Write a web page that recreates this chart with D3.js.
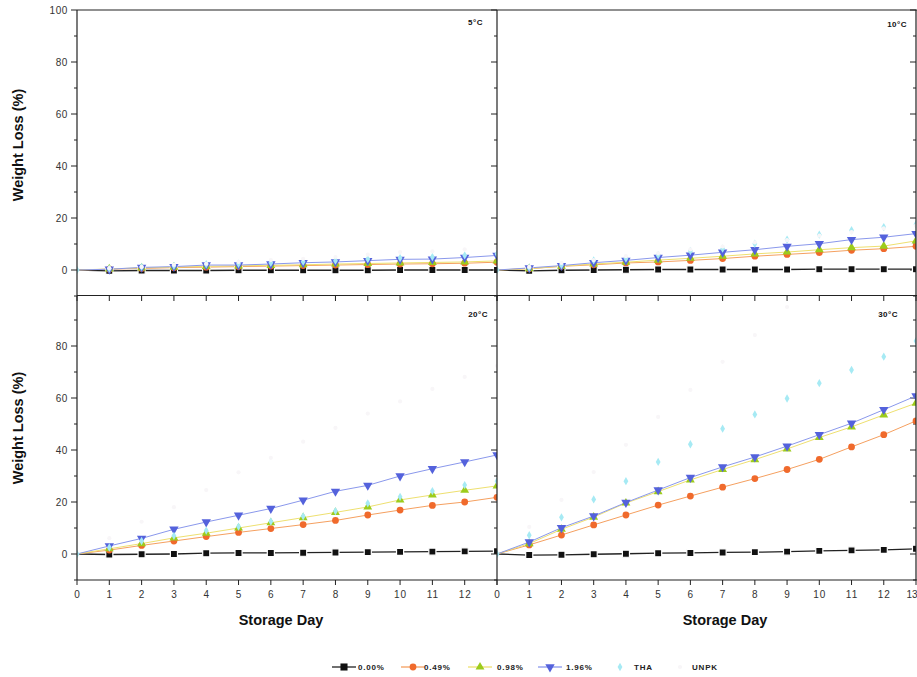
<!DOCTYPE html>
<html><head><meta charset="utf-8">
<script src="https://cdn.jsdelivr.net/npm/d3@7"></script>
<style>
html,body{margin:0;padding:0;background:#fff;}
svg{display:block;font-family:"Liberation Sans",Arial,sans-serif;}
</style></head><body>
<svg id="chart" width="917" height="677"></svg>
<script>
// ---------- DATA ----------
const days = [0,1,2,3,4,5,6,7,8,9,10,11,12,13];
const temperatures = ["5°C","10°C","20°C","30°C"];
const seriesNames = ["0.00%","0.49%","0.98%","1.96%","THA","UNPK"];
const yTicksTop = [0,20,40,60,80,100];
const yTicksBottom = [0,20,40,60,80];
const xTickLabels = days;

// weight loss (%) per temperature: [5°C, 10°C, 20°C, 30°C]
const loss000 = [
  [0,-0.3,-0.2,-0.2,-0.2,-0.1,-0.1,-0.1,-0.1,-0.1,0,0,0,0],
  [0,-0.3,-0.1,0,0.1,0.2,0.2,0.2,0.2,0.2,0.3,0.3,0.3,0.3],
  [0,-0.2,-0.1,0,0.3,0.4,0.4,0.5,0.6,0.7,0.8,0.9,1.0,1.1],
  [0,-0.4,-0.3,-0.1,0.1,0.3,0.4,0.6,0.7,0.9,1.2,1.4,1.6,2.0]
];
const loss049 = [
  [0,0.3,0.6,0.9,1.1,1.3,1.5,1.7,1.9,2.1,2.3,2.4,2.6,3.0],
  [0,0.5,1.4,2.0,2.7,3.1,3.7,4.4,5.3,6.0,6.7,7.6,8.2,9.1],
  [0,1.5,3.3,5.0,6.7,8.3,9.8,11.3,12.9,15.0,16.9,18.7,20.0,21.8],
  [0,3.5,7.3,11.2,15.0,18.8,22.3,25.7,29.0,32.5,36.4,41.2,45.9,51.2]
];
const loss098 = [
  [0,0.4,0.8,1.1,1.4,1.6,1.8,2.0,2.3,2.5,2.7,2.9,3.1,3.5],
  [0,0.5,1.5,2.3,3.0,3.8,4.5,5.3,6.2,6.9,7.8,8.6,9.2,11.2],
  [0,2.0,4.0,6.2,8.0,10.0,12.0,14.0,16.0,18.1,20.8,22.7,24.5,26.2],
  [0,4.0,9.5,14.2,19.6,24.0,28.5,32.5,36.3,40.4,44.8,48.9,53.5,58.0]
];
const loss196 = [
  [0,0.3,1.0,1.3,1.9,1.9,2.3,2.8,3.1,3.6,4.1,4.2,4.8,5.6],
  [0,0.8,1.7,2.8,3.7,4.8,5.7,6.8,7.8,9.1,10.1,11.7,12.6,14.0],
  [0,3.1,6.0,9.5,12.3,14.9,17.5,20.7,24.1,26.4,30.0,32.8,35.4,38.1],
  [0,4.6,10.1,14.6,19.8,24.6,29.4,33.5,37.3,41.5,45.9,50.3,55.5,60.8]
];
const lossTHA = [
  [0,0.5,1.2,1.6,2.2,2.4,2.8,3.2,3.6,4.2,4.6,5.0,5.6,6.2],
  [0,0.9,1.9,3.7,4.4,5.7,7.3,8.2,10.1,11.7,13.6,15.3,16.5,17.6],
  [0,2.5,5.0,7.0,9.0,10.5,12.5,14.5,16.5,19.5,22.0,24.2,26.5,28.0],
  [0,7.2,14.1,21.0,28.0,35.4,42.2,48.2,53.7,59.8,65.7,70.8,75.9,81.9]
];
const lossUNPK = [
  [0,0.7,1.2,2.0,2.4,3.1,3.8,4.3,5.0,5.9,6.9,7.2,7.9,8.6],
  [0,1.2,2.7,3.8,5.3,6.4,7.9,9.0,10.6,11.5,13.2,14.6,16.0,17.1],
  [0,6.1,12.4,18.0,24.6,31.4,37.0,43.2,48.5,54.0,58.7,63.5,68.1,72.4],
  [0,10.4,20.8,31.5,42.0,52.7,63.1,73.9,84.2,95.0,104,114,124,134]
];

// ---------- STYLE ----------
const allLoss = [loss000, loss049, loss098, loss196, lossTHA, lossUNPK];
const markerColor = ["#111111","#f06a2c","#9ccc1c","#5462dc","#a6eaf4","#f8f6f8"];
const lineColor   = ["#222222","#f5a060","#eee070","#8a98ec",null,null];
const symbols = [d3.symbolSquare, d3.symbolCircle, d3.symbolTriangle, d3.symbolTriangle, d3.symbolDiamond, d3.symbolCircle];
const symSize = [50, 36, 34, 38, 20, 14];
const symRot  = [0,0,0,180,0,0];

const svg = d3.select("#chart");

const xL = d3.scaleLinear().domain([0,13]).range([77,497]);
const xR = d3.scaleLinear().domain([0,13]).range([497,916]);
const yT = d3.scaleLinear().domain([-10,100]).range([296,10]);
const yB = d3.scaleLinear().domain([-10,100]).range([580,294]);

const panels = [
  {t:0, x:xL, y:yT, label:temperatures[0], lx:483, ly:25},
  {t:1, x:xR, y:yT, label:temperatures[1], lx:907, ly:27},
  {t:2, x:xL, y:yB, label:temperatures[2], lx:488, ly:317},
  {t:3, x:xR, y:yB, label:temperatures[3], lx:898, ly:317}
];

const axisColor = "#222";

function hline(x1,x2,y){svg.append("line").attr("x1",x1).attr("x2",x2).attr("y1",y).attr("y2",y).attr("stroke",axisColor).attr("stroke-width",1.2);}
function vline(x,y1,y2){svg.append("line").attr("x1",x).attr("x2",x).attr("y1",y1).attr("y2",y2).attr("stroke",axisColor).attr("stroke-width",1.2);}

panels.forEach((p,i)=>{
  const g = svg.append("g");
  const [x0,x1] = p.x.range();
  const [y0,y1] = [p.y(-10), p.y(100)];
  const cid = "clip"+i;
  svg.append("clipPath").attr("id",cid).append("rect")
    .attr("x",x0).attr("y",y1).attr("width",x1-x0).attr("height",y0-y1);

  const ticks = d3.range(-10,101,10);
  ticks.forEach(v=>{
    const major = v%20===0;
    if(v===100 && p.y===yB) return;
    g.append("line").attr("x1",x0).attr("x2",x0-(major?6:3)).attr("y1",p.y(v)).attr("y2",p.y(v))
      .attr("stroke",axisColor).attr("stroke-width",1);
    if(p.x===xR){
      g.append("line").attr("x1",x1).attr("x2",x1-(major?6:3)).attr("y1",p.y(v)).attr("y2",p.y(v))
        .attr("stroke",axisColor).attr("stroke-width",1);
    }
  });
  if(p.x===xL){
    const tv = p.y===yT ? yTicksTop : yTicksBottom;
    const ax = d3.axisLeft(p.y).tickValues(tv).tickSize(0).tickPadding(9);
    const ag = g.append("g").attr("transform",`translate(${x0},0)`).call(ax);
    ag.select(".domain").remove();
    ag.selectAll("text").attr("font-size",10).attr("fill","#333").attr("letter-spacing","0.6px")
      .attr("font-family","'Liberation Sans',Arial,sans-serif");
  }
  days.forEach(d=>{
    g.append("line").attr("x1",p.x(d)).attr("x2",p.x(d)).attr("y1",y0).attr("y2",y0+5)
      .attr("stroke",axisColor).attr("stroke-width",1);
  });
  if(p.y===yB){
    const labs = p.x===xL ? xTickLabels.slice(0,13) : xTickLabels;
    const ax = d3.axisBottom(p.x).tickValues(labs).tickSize(0).tickPadding(11).tickFormat(d3.format("d"));
    const ag = g.append("g").attr("transform",`translate(0,${y0})`).call(ax);
    ag.select(".domain").remove();
    ag.selectAll("text").attr("font-size",10).attr("fill","#333").attr("letter-spacing","1px")
      .attr("font-family","'Liberation Sans',Arial,sans-serif");
    if(p.x===xR){
      // last label pulled in so it stays inside the page
      ag.selectAll(".tick").filter(d=>d===13).select("text")
        .attr("text-anchor","end").attr("letter-spacing","0px").attr("x",1);
    }
  }

  const dg = svg.append("g").attr("clip-path",`url(#${cid})`);
  allLoss.forEach((ser,si)=>{
    const vals = ser[p.t];
    const pts = days.map((d,k)=>[p.x(d), p.y(vals[k])]);
    if(lineColor[si]){
      dg.append("path").attr("d", d3.line()(pts)).attr("fill","none")
        .attr("stroke",lineColor[si]).attr("stroke-width", si===0?1.3:1);
    }
  });
  allLoss.forEach((ser,si)=>{
    const vals = ser[p.t];
    const sym = d3.symbol().type(symbols[si]).size(symSize[si]);
    dg.selectAll(null).data(days.slice(1)).join("path")
      .attr("d", sym)
      .attr("transform", d=>`translate(${p.x(d)},${p.y(vals[d])}) rotate(${symRot[si]})`)
      .attr("fill", markerColor[si])
      .attr("stroke", si===0 ? "#fff" : "none").attr("stroke-width", si===0?1.2:0);
  });
  dg.append("path").attr("d", d3.symbol().type(d3.symbolDiamond).size(20)())
    .attr("transform",`translate(${p.x(0)},${p.y(0)})`).attr("fill","#a6eaf4");

  svg.append("text").attr("x",p.lx).attr("y",p.ly).attr("text-anchor","end")
    .attr("font-size",8).attr("font-weight","bold").attr("fill","#111").attr("letter-spacing","0.5px")
    .text(p.label);
});

hline(77,917,10); hline(77,917,295.5); hline(77,917,580);
vline(77,10,580); vline(497,10,580); vline(916,10,580);

[145,428].forEach(cy=>{
  svg.append("text").attr("transform",`translate(23,${cy}) rotate(-90)`).attr("text-anchor","middle")
    .attr("font-size",14.5).attr("font-weight","bold").attr("fill","#111").text("Weight Loss (%)");
});
[281,725].forEach(cx=>{
  svg.append("text").attr("x",cx).attr("y",625).attr("text-anchor","middle")
    .attr("font-size",14.5).attr("font-weight","bold").attr("fill","#111").text("Storage Day");
});

const legendPos = [
  {lx:332, tx:358},
  {lx:401, tx:424},
  {lx:468, tx:497},
  {lx:538, tx:566},
  {lx:608, tx:634},
  {lx:668, tx:692}
];
const lgY = 667;
seriesNames.forEach((name,si)=>{
  const pos = legendPos[si];
  const g = svg.append("g");
  if(lineColor[si]){
    g.append("line").attr("x1",pos.lx).attr("x2",pos.lx+24).attr("y1",lgY).attr("y2",lgY)
      .attr("stroke", si===0?"#222":lineColor[si]).attr("stroke-width",1.3);
  }
  g.append("path").attr("d", d3.symbol().type(symbols[si]).size(symSize[si])())
    .attr("transform",`translate(${pos.lx+12},${lgY}) rotate(${symRot[si]})`)
    .attr("fill",markerColor[si]);
  g.append("text").attr("x",pos.tx).attr("y",lgY+3).attr("font-size",8).attr("font-weight","bold")
    .attr("letter-spacing","0.8px").attr("fill","#222").text(name);
});
</script>
</body></html>
